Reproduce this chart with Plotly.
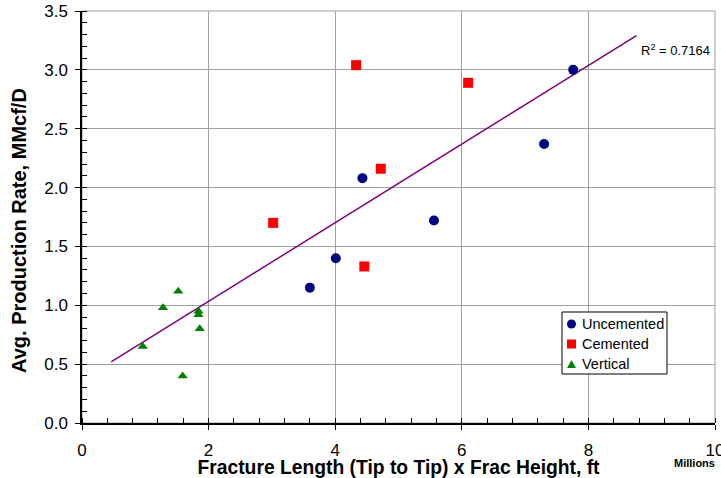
import plotly.graph_objects as go

# Fracture area (millions of ft²) vs. average production rate (MMcf/D)
unc_x = [3.60, 4.01, 4.43, 5.56, 7.30, 7.76]
unc_y = [1.15, 1.40, 2.08, 1.72, 2.37, 3.00]

cem_x = [3.02, 4.33, 4.46, 4.72, 6.10]
cem_y = [1.70, 3.04, 1.33, 2.16, 2.89]

ver_x = [0.96, 1.28, 1.52, 1.59, 1.84, 1.84, 1.86]
ver_y = [0.65, 0.98, 1.12, 0.40, 0.95, 0.92, 0.80]

# Linear trend line endpoints
trend_x = [0.46, 8.76]
trend_y = [0.52, 3.29]
r2_text = "R<sup>2</sup> = 0.7164"

series_names = ["Uncemented", "Cemented", "Vertical"]
series_colors = ["#000080", "#FF0000", "#008000"]

FONT = "Liberation Sans, Arial, sans-serif"
W, H = 721, 478
ML, MR, MT, MB = 82, 6, 11, 55
PW, PH = W - ML - MR, H - MT - MB


def px(x):
    """pixel column -> paper x"""
    return (x - ML) / PW


def py(y):
    """pixel row -> paper y"""
    return (H - MB - y) / PH


fig = go.Figure()
fig.add_trace(go.Scatter(x=trend_x, y=trend_y, mode="lines",
                         line=dict(color="#800080", width=1.5),
                         showlegend=False, hoverinfo="skip"))
fig.add_trace(go.Scatter(x=unc_x, y=unc_y, mode="markers", name=series_names[0],
                         marker=dict(symbol="circle", size=10, color=series_colors[0])))
fig.add_trace(go.Scatter(x=cem_x, y=cem_y, mode="markers", name=series_names[1],
                         marker=dict(symbol="square", size=10, color=series_colors[1])))
fig.add_trace(go.Scatter(x=ver_x, y=ver_y, mode="markers", name=series_names[2],
                         marker=dict(symbol="triangle-up", size=9, color=series_colors[2])))

# Boxed legend in the lower right of the plot area
lg_left, lg_top, lg_right, lg_bottom = 562, 312, 667, 374
key_cx, text_x = 571.5, 580
row_y = [324, 344, 364]
r = 4.5
shapes = [
    dict(type="rect", xref="paper", yref="paper", x0=0, x1=1, y0=0, y1=1,
         line=dict(color="#a0a0a0", width=1), layer="below"),
    dict(type="rect", xref="paper", yref="paper",
         x0=px(lg_left), x1=px(lg_right), y0=py(lg_bottom), y1=py(lg_top),
         line=dict(color="black", width=1), fillcolor="white", layer="above"),
    dict(type="circle", xref="paper", yref="paper",
         x0=px(key_cx - r), x1=px(key_cx + r), y0=py(row_y[0] + r), y1=py(row_y[0] - r),
         line=dict(width=0), fillcolor=series_colors[0], layer="above"),
    dict(type="rect", xref="paper", yref="paper",
         x0=px(key_cx - r), x1=px(key_cx + r), y0=py(row_y[1] + r), y1=py(row_y[1] - r),
         line=dict(width=0), fillcolor=series_colors[1], layer="above"),
    dict(type="path", xref="paper", yref="paper",
         path=(f"M {px(key_cx - 4.5)},{py(row_y[2] + 4)} "
               f"L {px(key_cx + 4.5)},{py(row_y[2] + 4)} "
               f"L {px(key_cx)},{py(row_y[2] - 4)} Z"),
         line=dict(width=0), fillcolor=series_colors[2], layer="above"),
]

annotations = [
    dict(text=r2_text, x=0.995, y=0.905, xref="paper", yref="paper",
         xanchor="right", yanchor="middle", showarrow=False, font=dict(size=13)),
    dict(text="<b>Millions</b>", x=1.003, y=-0.097, xref="paper", yref="paper",
         xanchor="right", yanchor="middle", showarrow=False, font=dict(size=11)),
    dict(text="<b>Avg. Production Rate, MMcf/D</b>", textangle=-90,
         x=px(19), y=py(231), xref="paper", yref="paper",
         xanchor="center", yanchor="middle", showarrow=False, font=dict(size=20)),
]
for name, yy in zip(series_names, row_y):
    annotations.append(dict(text=name, x=px(text_x), y=py(yy), xref="paper", yref="paper",
                            xanchor="left", yanchor="middle", showarrow=False,
                            font=dict(size=14.5)))

fig.update_layout(
    width=W, height=H,
    margin=dict(l=ML, r=MR, t=MT, b=MB, autoexpand=False),
    paper_bgcolor="white", plot_bgcolor="white",
    font=dict(family=FONT, size=17, color="black"),
    showlegend=False,
    xaxis=dict(range=[0, 10], dtick=2, tick0=0, automargin=False,
               showgrid=True, gridcolor="#a0a0a0", gridwidth=1,
               showline=True, linecolor="black", linewidth=1.5,
               ticks="outside", ticklen=5, tickcolor="black",
               ticklabelstandoff=6, ticklabeloverflow="allow",
               minor=dict(dtick=0.4, ticks="inside", ticklen=5, tickcolor="black", showgrid=False),
               zeroline=False,
               title=dict(text="<b>Fracture Length (Tip to Tip) x Frac Height, ft</b>",
                          font=dict(size=19.3), standoff=2)),
    yaxis=dict(range=[0, 3.5], dtick=0.5, tick0=0, tickformat=".1f", automargin=False,
               showgrid=True, gridcolor="#a0a0a0", gridwidth=1,
               showline=True, linecolor="black", linewidth=1.5,
               ticks="outside", ticklen=5, tickcolor="black",
               ticklabelstandoff=4, ticklabeloverflow="allow",
               minor=dict(dtick=0.1, ticks="inside", ticklen=5, tickcolor="black", showgrid=False),
               zeroline=False),
    shapes=shapes,
    annotations=annotations,
)

fig.write_html("out.html")
